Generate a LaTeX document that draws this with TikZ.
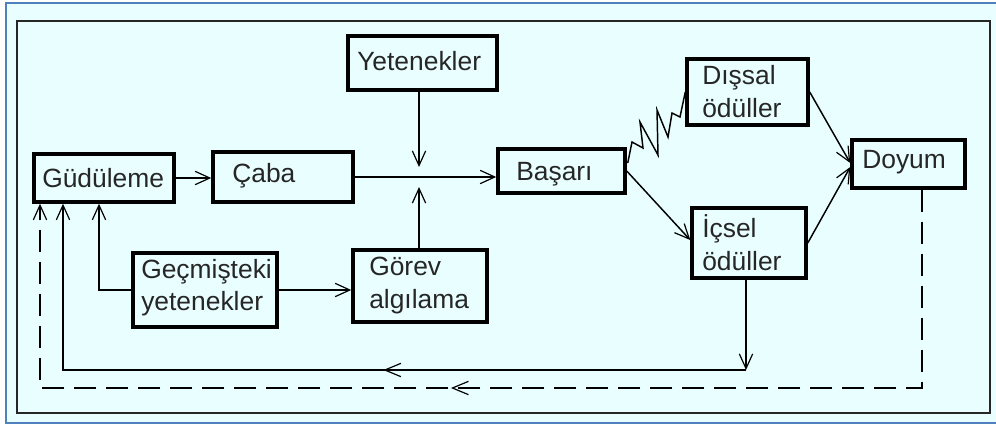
\documentclass[tikz,border=0pt]{standalone}
\usepackage{fontspec}
\setmainfont{Liberation Sans}
\usetikzlibrary{arrows.meta,decorations.markings,calc}
\definecolor{bgc}{RGB}{233,255,255}
\definecolor{bluec}{RGB}{79,129,189}
\begin{document}
\begin{tikzpicture}[x=0.75pt,y=-0.75pt,
  box/.style={draw=black, line width=2.6pt, inner sep=0pt, fill=none},
  txt/.style={anchor=base west, inner sep=0pt, font=\fontsize{19.8}{24}\selectfont, text=black!85},
  conn/.style={line width=1.1pt, black},
  tip/.style={-{Straight Barb[length=11pt,width=10pt,line width=0.9pt]}},
  dashline/.style={dash pattern=on 16.5pt off 7.5pt},
  midtip/.style={postaction={decorate}, decoration={markings,
     mark=at position #1 with {\arrow{Straight Barb[length=12pt,width=10pt,line width=0.9pt]}}}}
]
\useasboundingbox (0,0) rectangle (996,426);
\begin{scope}
\clip (0,0) rectangle (996,426);
\fill[bgc] (6,3) rectangle (1010,423);
\draw[bluec, line width=1.6pt] (1010,3) -- (6,3) -- (6,423) -- (1010,423);
\end{scope}
\draw[black!85, line width=1.6pt] (17,21) rectangle (990,413);

% boxes
\node[box, minimum width=105pt, minimum height=36pt] (gud) at (104,178) {};
\node[box, minimum width=105pt, minimum height=37.5pt] (caba) at (283,177) {};
\node[box, minimum width=111.75pt, minimum height=40.5pt] (yet) at (422.5,63) {};
\node[box, minimum width=95.25pt, minimum height=33pt] (basari) at (561.5,171) {};
\node[box, minimum width=90.75pt, minimum height=49.5pt] (dissal) at (747.5,92) {};
\node[box, minimum width=84.75pt, minimum height=36pt] (doyum) at (908.5,164) {};
\node[box, minimum width=85.5pt, minimum height=52.5pt] (icsel) at (749,243) {};
\node[box, minimum width=108pt, minimum height=55.5pt] (gecmis) at (205,290) {};
\node[box, minimum width=100.5pt, minimum height=54pt] (gorev) at (420,286) {};

% texts
\node[txt] (tgud) at (42,187) {Güdüleme};
\node[txt] (tcaba) at (232,182) {Çaba};
\node[txt] (tyet) at (357,70) {Yetenekler};
\node[txt] (tbas) at (516,180) {Başarı};
\node[txt] (tdoy) at (862,168) {Doyum};
\node[txt] (tdis1) at (702,84) {Dışsal};
\node[txt] (tdis2) at (702,117) {ödüller};
\node[txt] (tics1) at (702,237) {İçsel};
\node[txt] (tics2) at (702,270) {ödüller};
\node[txt] (tgec1) at (141,278) {Geçmişteki};
\node[txt] (tgec2) at (141,310) {yetenekler};
\node[txt] (tgor1) at (369,275) {Görev};
\node[txt] (tgor2) at (369,308) {algılama};

% junction coordinates
\coordinate (jtop) at (419,167);
\coordinate (jbot) at (419,187);
\coordinate (c1) at (746,370);

% connectors
\draw[conn, tip] (gud.east) -- (gud.east -| caba.west);
\draw[conn, tip] (caba.east) -- (caba.east -| basari.west);
\draw[conn, tip] (419,0 |- yet.south) -- (jtop);
\draw[conn, tip] (419,0 |- gorev.north) -- (jbot);
\draw[conn] ($(basari.east)+(1,-8)$) -- (632,142) -- (643,148) -- (640,122) -- (658,155)
   -- (657,110) -- (668,137) -- (672,113) -- (680,117) -- (dissal.west);
\draw[conn, tip] (dissal.east) -- ($(doyum.west)+(0,-1)$);
\draw[conn, tip] (icsel.east) -- ($(doyum.west)+(0,3)$);
\draw[conn, tip] (basari.east) -- ($(icsel.west)+(0,-3)$);
\draw[conn, tip] (746,0 |- icsel.south) -- (c1);
\draw[conn, tip, midtip=272pt] (c1) -- (63,370) -- (63,0 |- gud.south);
\draw[conn, tip] (gecmis.west) -- (99,0 |- gecmis.west) -- (99,0 |- gud.south);
\draw[conn, tip] (gecmis.east) -- (gecmis.east -| gorev.west);
\draw[conn, dashline, tip, midtip=502pt] (922,0 |- doyum.south) -- (922,388) -- (40,388) -- (40,0 |- gud.south);
\end{tikzpicture}
\end{document}
